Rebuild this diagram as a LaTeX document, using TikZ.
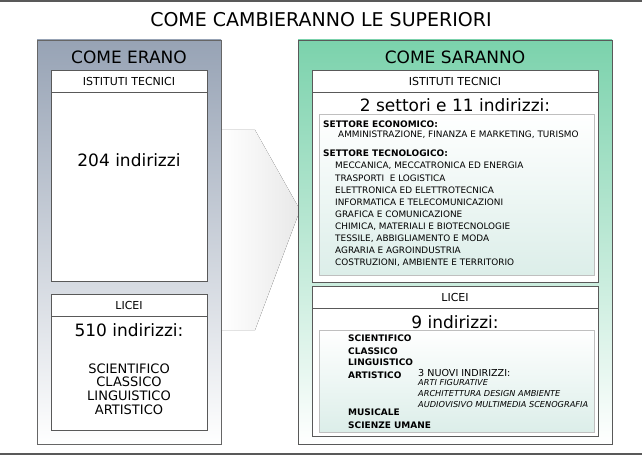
\documentclass[tikz,border=0pt]{standalone}
\usepackage{fontspec}
\setmainfont{DejaVu Sans}
\definecolor{lg}{HTML}{97A3B5}
\definecolor{rg}{HTML}{7BD2AC}
\definecolor{ib}{HTML}{DCEEE9}
\begin{document}
\begin{tikzpicture}[x=1pt,y=-1pt,
  panelL/.style={draw=gray!80!black,top color=lg,bottom color=white},
  panelR/.style={draw=gray!70!black,top color=rg,bottom color=white},
  wbox/.style={draw=gray!70!black,fill=white},
  ibox/.style={draw=gray!50,top color=white,bottom color=ib},
  hd/.style={font=\fontsize{11}{12}\selectfont},
  big/.style={font=\fontsize{17}{19}\selectfont},
  sm/.style={anchor=west,inner sep=0pt,font=\fontsize{8.9}{9}\selectfont},
  smb/.style={sm,font=\fontsize{9}{9}\selectfont\bfseries},
  smi/.style={sm,font=\fontsize{8.2}{9}\selectfont\itshape}]
\useasboundingbox (0,0) rectangle (642,457);
\fill[gray!70!black] (0,0) rectangle (642,2);
\fill[gray!70!black] (0,453) rectangle (642,455);
\node[font=\fontsize{19}{21}\selectfont] (title) at (321,20) {COME CAMBIERANNO LE SUPERIORI};
% arrow
\fill[left color=white,right color=gray!18] (222,130) -- (255,130) -- (300,210) -- (255,330) -- (222,330) -- cycle;
% left panel
\draw[panelL] (37,40) rectangle (221,444);
\node[big] (lh) at (129,57) {COME ERANO};
\draw[wbox] (51,70) rectangle (207,281); \draw[gray!70!black] (51,92) -- (207,92);
\node[hd] (l1h) at (129,81) {ISTITUTI TECNICI};
\node[big] (l1t) at (129,160) {204 indirizzi};
\draw[wbox] (51,294) rectangle (207,430); \draw[gray!70!black] (51,316) -- (207,316);
\node[hd] (l2h) at (129,305) {LICEI};
\node[big] (l2t) at (129,330) {510 indirizzi:};
\node[align=center,font=\fontsize{13}{13.7}\selectfont] (l2l) at (129,389) {SCIENTIFICO\\CLASSICO\\LINGUISTICO\\ARTISTICO};
% right panel
\draw[panelR] (298,40) rectangle (612,444);
\node[big] (rh) at (455,57) {COME SARANNO};
\draw[wbox] (312,70) rectangle (598,282); \draw[gray!70!black] (312,92) -- (598,92);
\node[hd] (r1h) at (455,81) {ISTITUTI TECNICI};
\node[big] (r1t) at (455,105) {2 settori e 11 indirizzi:};
\draw[ibox] (319,114) rectangle (594,275);
\node[smb] (se) at (323,124) {SETTORE ECONOMICO:};
\node[sm] (se1) at (338,135) {AMMINISTRAZIONE, FINANZA E MARKETING, TURISMO};
\node[smb] (st) at (323,153) {SETTORE TECNOLOGICO:};
\foreach \t [count=\i] in {{MECCANICA, MECCATRONICA ED ENERGIA},{TRASPORTI\ \ E LOGISTICA},{ELETTRONICA ED ELETTROTECNICA},{INFORMATICA E TELECOMUNICAZIONI},{GRAFICA E COMUNICAZIONE},{CHIMICA, MATERIALI E BIOTECNOLOGIE},{TESSILE, ABBIGLIAMENTO E MODA},{AGRARIA E AGROINDUSTRIA},{COSTRUZIONI, AMBIENTE E TERRITORIO}}
  \node[sm] (t\i) at (335,{154+12.05*\i}) {\t};
\draw[wbox] (312,286) rectangle (598,436); \draw[gray!70!black] (312,308) -- (598,308);
\node[hd] (r2h) at (455,297) {LICEI};
\node[big] (r2t) at (455,322) {9 indirizzi:};
\draw[ibox] (319,330) rectangle (594,432);
\node[smb] (a1) at (348,338) {SCIENTIFICO};
\node[smb] (a2) at (348,351) {CLASSICO};
\node[smb] (a3) at (348,362.5) {LINGUISTICO};
\node[smb] (a4) at (348,375) {ARTISTICO};
\node[sm,font=\fontsize{9.6}{10}\selectfont] (n0) at (418,373) {3 NUOVI INDIRIZZI:};
\node[smi] (n1) at (418,383) {ARTI FIGURATIVE};
\node[smi] (n2) at (418,394) {ARCHITETTURA DESIGN AMBIENTE};
\node[smi] (n3) at (418,405) {AUDIOVISIVO MULTIMEDIA SCENOGRAFIA};
\node[smb] (a5) at (348,412) {MUSICALE};
\node[smb] (a6) at (348,425) {SCIENZE UMANE};
\end{tikzpicture}
\end{document}
